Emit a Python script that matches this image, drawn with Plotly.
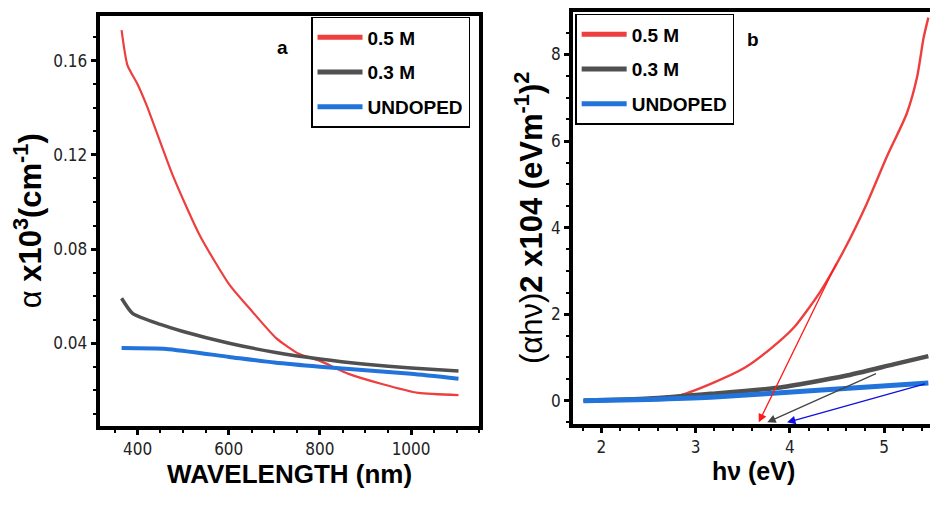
import plotly.graph_objects as go

# ---------- Panel a data: absorption coefficient vs wavelength ----------
wl_red = [365, 378, 400, 420, 477, 536, 601, 651, 704, 754, 800, 863, 936, 1016, 1104]
a_red = [0.173, 0.158, 0.150, 0.141, 0.1114, 0.086, 0.065, 0.0536, 0.0422, 0.0355, 0.0325, 0.0270, 0.0227, 0.0189, 0.0180]

wl_gray = [365, 389, 450, 498, 601, 700, 800, 900, 1000, 1104]
a_gray = [0.0591, 0.0527, 0.0480, 0.0451, 0.0400, 0.0362, 0.0333, 0.0311, 0.0295, 0.0282]

wl_blue = [365, 463, 601, 700, 800, 900, 1000, 1104]
a_blue = [0.0380, 0.0376, 0.0342, 0.0318, 0.0300, 0.0285, 0.0270, 0.0249]

# ---------- Panel b data: Tauc plot ----------
e_red = [1.81, 2.3, 2.81, 3.16, 3.52, 3.80, 4.05, 4.32, 4.58, 4.82, 5.03, 5.24, 5.35, 5.42, 5.47]
t_red = [0.0, 0.02, 0.11, 0.39, 0.76, 1.21, 1.71, 2.51, 3.50, 4.57, 5.64, 6.63, 7.47, 8.39, 8.85]

e_gray = [1.81, 2.5, 3.16, 3.87, 4.58, 5.10, 5.47]
t_gray = [0.0, 0.05, 0.16, 0.30, 0.57, 0.84, 1.03]

e_blue = [1.81, 2.5, 3.16, 4.22, 5.47]
t_blue = [0.0, 0.03, 0.08, 0.23, 0.41]

# tangent (band-gap extrapolation) arrows: start (x, y) -> tip (x, y)
arrow_start_x = [4.50, 4.93, 5.45]
arrow_start_y = [3.20, 0.64, 0.40]
arrow_tip_x = [3.67, 3.76, 3.97]
arrow_tip_y = [-0.50, -0.50, -0.50]
arrow_colors = ["#FF1A1A", "#444444", "#1010E0"]

series_names = ["0.5 M", "0.3 M", "UNDOPED"]
series_colors = ["#EE3E3E", "#505050", "#2273DA"]

# page body has an 8px margin: figure occupies 8..938 x 8..505 of the window
OFF = 8
W, H = 938 - OFF, 505 - OFF


def px(x):
    return (x - OFF) / W


def py(y):
    return 1 - (y - OFF) / H


FONT = "DejaVu Sans Condensed, Liberation Sans Narrow, Liberation Sans, Arial, sans-serif"
BOLD = "Liberation Sans, Arial, sans-serif"

fig = go.Figure()

# panel a traces
for xs, ys, c, w in [(wl_red, a_red, series_colors[0], 2.2),
                     (wl_gray, a_gray, series_colors[1], 3.5),
                     (wl_blue, a_blue, series_colors[2], 4)]:
    fig.add_trace(go.Scatter(x=xs, y=ys, mode="lines", line=dict(color=c, width=w, shape="spline", smoothing=0.6),
                             xaxis="x", yaxis="y", showlegend=False, hoverinfo="skip"))

# panel b traces
for xs, ys, c, w in [(e_red, t_red, series_colors[0], 2.4),
                     (e_gray, t_gray, series_colors[1], 4.5),
                     (e_blue, t_blue, series_colors[2], 5)]:
    fig.add_trace(go.Scatter(x=xs, y=ys, mode="lines", line=dict(color=c, width=w, shape="spline", smoothing=0.6),
                             xaxis="x2", yaxis="y2", showlegend=False, hoverinfo="skip"))

# legend entries
for i, (n, c) in enumerate(zip(series_names, series_colors)):
    fig.add_trace(go.Scatter(x=[None], y=[None], mode="lines", name="<b>%s</b>" % n, line=dict(color=c, width=5),
                             xaxis="x", yaxis="y", legend="legend", legendgroup="a%d" % i))
    fig.add_trace(go.Scatter(x=[None], y=[None], mode="lines", name="<b>%s</b>" % n, line=dict(color=c, width=5),
                             xaxis="x2", yaxis="y2", legend="legend2", legendgroup="b%d" % i))

# arrows
for sx, sy, tx, ty, c in zip(arrow_start_x, arrow_start_y, arrow_tip_x, arrow_tip_y, arrow_colors):
    fig.add_annotation(x=tx, y=ty, ax=sx, ay=sy, xref="x2", yref="y2", axref="x2", ayref="y2",
                       showarrow=True, arrowhead=2, arrowsize=1.3, arrowwidth=1.3, arrowcolor=c, text="")

# panel labels
fig.add_annotation(text="<b>a</b>", x=px(276), y=py(31), xref="paper", yref="paper", showarrow=False,
                   font=dict(family=BOLD, size=19, color="black"))
fig.add_annotation(text="<b>b</b>", x=px(763), y=py(23), xref="paper", yref="paper", showarrow=False,
                   font=dict(family=BOLD, size=19, color="black"))

axis_common = dict(showline=True, linewidth=4, linecolor="black", mirror=True, ticks="outside",
                   ticklen=5, tickwidth=3, tickcolor="black", showgrid=False, zeroline=False,
                   tickfont=dict(family=FONT, size=17, color="#222"),
                   minor=dict(ticks="outside", ticklen=3, tickwidth=2, tickcolor="black"))

fig.update_layout(
    width=W, height=H, margin=dict(l=0, r=0, t=0, b=0),
    plot_bgcolor="white", paper_bgcolor="white",
    xaxis=dict(domain=[px(100), px(481)], range=[317, 1150], tickvals=[400, 600, 800, 1000],
               title=dict(text="<b>WAVELENGTH (nm)</b>", font=dict(family=BOLD, size=26, color="black"), standoff=4),
               anchor="y", **axis_common),
    yaxis=dict(domain=[py(425), py(12)], range=[0.005, 0.179], tickvals=[0.04, 0.08, 0.12, 0.16],
               ticktext=["0.04", "0.08", "0.12", "0.16"],
               title=dict(text="α <b>x10<sup>3</sup>(cm<sup>-1</sup>)</b>", font=dict(family=BOLD, size=31, color="black"), standoff=4),
               anchor="x", **axis_common),
    xaxis2=dict(domain=[px(575), px(937)], range=[1.7, 5.53], tickvals=[2, 3, 4, 5],
                title=dict(text="<b>hν (eV)</b>", font=dict(family=BOLD, size=25, color="black"), standoff=4),
                anchor="y2", **axis_common),
    yaxis2=dict(domain=[py(423), py(8)], range=[-0.53, 8.98], tickvals=[0, 2, 4, 6, 8],
                title=dict(text="(αhν)<b>2 x104 (eVm<sup>-1</sup>)<sup>2</sup></b>", font=dict(family=BOLD, size=31, color="black"), standoff=0),
                anchor="x2", **axis_common),
    legend=dict(x=px(312), y=py(13), xanchor="left", yanchor="top", bgcolor="white",
                bordercolor="black", borderwidth=1.5, font=dict(family=BOLD, size=19, color="black"),
                tracegroupgap=7, itemwidth=45, traceorder="grouped"),
    legend2=dict(x=px(577), y=py(10), xanchor="left", yanchor="top", bgcolor="white",
                 bordercolor="black", borderwidth=1.5, font=dict(family=BOLD, size=19, color="black"),
                 tracegroupgap=7, itemwidth=45, traceorder="grouped"),
)

fig.write_html("out.html")
